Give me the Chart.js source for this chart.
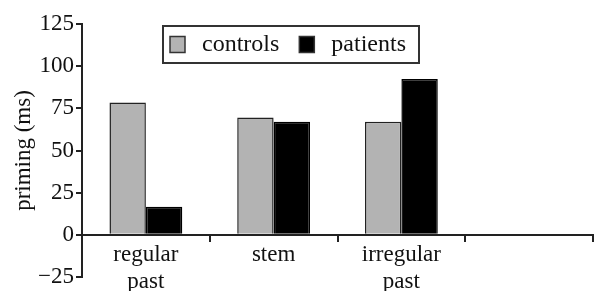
<!DOCTYPE html>
<html>
<head>
<meta charset="utf-8">
<script src="https://cdn.jsdelivr.net/npm/chart.js@4/dist/chart.umd.min.js"></script>
<style>
  html, body { margin: 0; padding: 0; background: #fff; }
  #wrap { width: 594px; height: 291px; position: relative; }
</style>
</head>
<body>
<div id="wrap"><canvas id="c"></canvas></div>
<script>
const categories = [["regular", "past"], "stem", ["irregular", "past"], ""];
const controls = [78.4, 69.6, 67.1, null];
const patients = [16.6, 67.1, 92.4, null];
const yTicks = { min: -25, max: 125, step: 25 };
const seriesNames = ["controls", "patients"];
const seriesColors = ["#b3b3b3", "#000000"];

const FONT = "'Liberation Serif', 'Times New Roman', serif";

const boxLegend = {
  id: 'boxLegend',
  afterDraw(chart) {
    const ctx = chart.ctx;
    const ca = chart.chartArea;
    const x0 = ca.left + 81, y0 = ca.top + 2, w = 256, h = 37;
    ctx.save();
    ctx.strokeStyle = '#333';
    ctx.lineWidth = 2;
    ctx.strokeRect(x0, y0, w, h);
    ctx.font = '24px ' + FONT;
    ctx.textBaseline = 'middle';
    const cy = y0 + h / 2;
    let x = x0 + 7;
    chart.data.datasets.forEach((ds, i) => {
      ctx.fillStyle = ds.backgroundColor;
      ctx.fillRect(x, cy - 8, 15, 16);
      ctx.strokeStyle = '#333';
      ctx.lineWidth = 1.5;
      ctx.strokeRect(x, cy - 8, 15, 16);
      ctx.fillStyle = '#111';
      ctx.fillText(ds.label, x + 32, cy);
      x += 32 + ctx.measureText(ds.label).width + 20;
    });
    ctx.restore();
  }
};

new Chart(document.getElementById('c'), {
  type: 'bar',
  data: {
    labels: categories,
    datasets: [
      { label: seriesNames[0], data: controls, backgroundColor: seriesColors[0], borderColor: '#222', borderWidth: 1.5 },
      { label: seriesNames[1], data: patients, backgroundColor: seriesColors[1], borderColor: '#000', borderWidth: 1.5 }
    ]
  },
  options: {
    responsive: true,
    maintainAspectRatio: false,
    animation: false,
    devicePixelRatio: 1,
    layout: { padding: { top: 24, bottom: 14, right: 1, left: 0 } },
    datasets: { bar: { categoryPercentage: 0.57, barPercentage: 1.0 } },
    plugins: { legend: { display: false }, tooltip: { enabled: false } },
    scales: {
      x: {
        position: { y: 0 },
        offset: true,
        afterFit(scale) { scale.paddingLeft = 0; scale.paddingRight = 0; scale.paddingTop = 0; scale.paddingBottom = 0; },
        grid: { offset: true, drawOnChartArea: false, drawTicks: true, tickLength: 6, color: '#222', lineWidth: 2 },
        border: { color: '#222', width: 2 },
        ticks: { color: '#111', font: { family: FONT, size: 23, lineHeight: 1.2 }, padding: 0, maxRotation: 0, autoSkip: false }
      },
      y: {
        min: yTicks.min, max: yTicks.max,
        afterFit(scale) { scale.width = 82; scale.paddingTop = 0; scale.paddingBottom = 0; },
        grid: { drawOnChartArea: false, drawTicks: true, tickLength: 6, color: '#222', lineWidth: 2 },
        border: { color: '#222', width: 2 },
        ticks: { stepSize: yTicks.step, color: '#111', font: { family: FONT, size: 23 }, padding: 2,
          callback: v => (v < 0 ? '\u2212' + Math.abs(v) : String(v)) },
        title: { display: true, text: 'priming (ms)', color: '#111', font: { family: FONT, size: 23 }, padding: { top: 10, bottom: 0 } }
      }
    }
  },
  plugins: [boxLegend]
});
</script>
</body>
</html>
